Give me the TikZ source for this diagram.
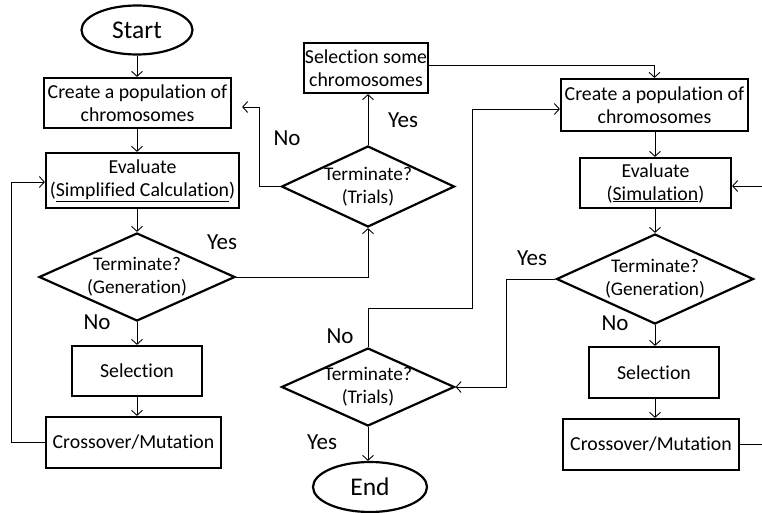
\documentclass[tikz,border=0pt]{standalone}
\usepackage{fontspec}
\setmainfont{Carlito}[Ligatures=NoCommon]
\usetikzlibrary{shapes.geometric,arrows.meta,calc}
\tikzset{
  box/.style={draw, line width=2.2pt, rectangle, inner sep=0pt, align=center, font=\fontsize{19.8}{23}\selectfont},
  oval/.style={draw, line width=2.2pt, ellipse, inner sep=0pt, font=\fontsize{25.5}{30}\selectfont},
  dia/.style={draw, line width=2.2pt, diamond, inner sep=0pt},
  diatext/.style={align=center, inner sep=0pt, font=\fontsize{19.3}{23}\selectfont},
  arr/.style={line width=0.9pt, -{Straight Barb[length=5pt,width=11pt,line width=0.9pt]}},
  ln/.style={line width=0.9pt},
  lab/.style={inner sep=0pt, font=\fontsize{23}{27}\selectfont}
}
\begin{document}
\begin{tikzpicture}[x=1pt,y=-1pt]
\useasboundingbox (0,0) rectangle (762,513);
\clip (0,0) rectangle (762,513);
\fill[white] (0,0) rectangle (762,513);
% left column
\node[oval, minimum width=111pt, minimum height=49pt] (start) at (137,30) {Start};
\node[box, minimum width=187pt, minimum height=50pt] (cp1) at (137.5,103) {Create a population of\\chromosomes};
\node[box, minimum width=193pt, minimum height=55pt] (ev1) at (142.5,180.5) {Evaluate\\(\underline{Simplified Calculation})};
\node[dia, minimum width=196pt, minimum height=88pt] (d1) at (137,277) {};
\node[diatext] at (d1) {Terminate?\\(Generation)};
\node[box, minimum width=130pt, minimum height=50pt] (sel1) at (137,371) {Selection};
\node[box, minimum width=175pt, minimum height=51pt] (cm1) at (133.5,442.5) {Crossover/Mutation};
% middle
\node[box, minimum width=124pt, minimum height=50pt] (ssc) at (366,68) {Selection some\\chromosomes};
\node[dia, minimum width=173pt, minimum height=81pt] (d2) at (368,186.5) {};
\node[diatext] at (d2) {Terminate?\\(Trials)};
\node[dia, minimum width=173pt, minimum height=78pt] (d4) at (368,387) {};
\node[diatext] at (d4) {Terminate?\\(Trials)};
\node[oval, minimum width=114pt, minimum height=50pt] (end) at (370,487) {End};
% right column
\node[box, minimum width=187pt, minimum height=52pt] (cp2) at (654.5,105) {Create a population of\\chromosomes};
\node[box, minimum width=151pt, minimum height=50pt] (ev2) at (655.5,183) {Evaluate\\(\underline{Simulation})};
\node[dia, minimum width=197pt, minimum height=90pt] (d3) at (655,279) {};
\node[diatext] at (d3) {Terminate?\\(Generation)};
\node[box, minimum width=130pt, minimum height=51pt] (sel2) at (654,372.5) {Selection};
\node[box, minimum width=176pt, minimum height=51pt] (cm2) at (651,444.5) {Crossover/Mutation};
% connectors left
\draw[arr] (start.south) -- (start.south |- cp1.north);
\draw[arr] (d1.north |- cp1.south) -- (d1.north |- ev1.north);
\draw[arr] (d1.north |- ev1.south) -- (d1.north);
\draw[arr] (d1.south) -- (d1.south |- sel1.north);
\draw[arr] (sel1.south) -- (sel1.south |- cm1.north);
\draw[arr] (cm1.west) -- ++(-33,0) |- ([yshift=-1.5pt]ev1.west);
\draw[arr] (d1.east) -| (d2.south);
% middle
\draw[arr] (d2.north) -- (d2.north |- ssc.south);
\draw[arr, shorten >=10pt] (d2.west) -- ++(-21,0) |- ([yshift=-4pt]cp1.east);
\draw[arr] ([yshift=3pt]ssc.east) -| (cp2.north);
\draw[arr] (d4.south) -- (d4.south |- end.north);
\draw[arr] (d4.north) -- ++(0,-38) -| ([xshift=-87pt,yshift=-4pt]cp2.west) -- ([yshift=-4pt]cp2.west);
\draw[arr] (d3.west) -- ++(-49,0) |- (d4.east);
% right
\draw[arr] (d3.north |- cp2.south) -- (d3.north |- ev2.north);
\draw[arr] (d3.north |- ev2.south) -- (d3.north);
\draw[arr] (d3.south) -- (d3.south |- sel2.north);
\draw[arr] (d3.south |- sel2.south) -- (d3.south |- cm2.north);
\coordinate (rin) at (775,186);
\coordinate (rout) at (775,444.5);
\draw[arr] (rin) -- (rin -| ev2.east);
\draw[ln] (cm2.east) -- (rout);
% labels
\node[lab] at (222,242) {Yes};
\node[lab] at (97,322) {No};
\node[lab] at (287,138) {No};
\node[lab] at (403,120) {Yes};
\node[lab] at (532,258) {Yes};
\node[lab] at (615,323) {No};
\node[lab] at (340,336) {No};
\node[lab] at (322,442) {Yes};
\end{tikzpicture}
\end{document}
